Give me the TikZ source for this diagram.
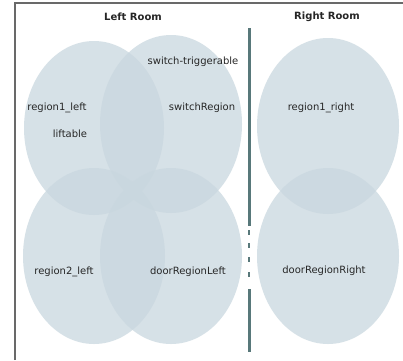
\documentclass[tikz,border=0pt]{standalone}
\usepackage{fontspec}
\setmainfont{DejaVu Sans}
\begin{document}
\begin{tikzpicture}[x=1pt,y=-1pt]
\definecolor{regfill}{RGB}{201,215,223}
\definecolor{wallc}{RGB}{88,120,122}
\definecolor{framec}{RGB}{105,105,105}
\tikzset{
  region/.style={fill=regfill,fill opacity=0.75},
  lbl/.style={font=\fontsize{10}{12}\selectfont,text=black!85,inner sep=0pt},
  title/.style={font=\fontsize{10}{12}\selectfont\bfseries,text=black!85,inner sep=0pt},
  wall/.style={draw=wallc,line width=3pt},
  wallgap/.style={draw=wallc,line width=1.5pt}
}
\useasboundingbox (0,0) rectangle (403,360);
\fill[white] (0,0) rectangle (403,360);
% frame
\draw[framec,line width=1.3pt] (15,360) -- (15,3) -- (403,3);
% regions
\fill[region] (94,128) ellipse [x radius=70, y radius=87];
\fill[region] (171,124) ellipse [x radius=71, y radius=89];
\fill[region] (94,256) ellipse [x radius=71, y radius=88];
\fill[region] (171,256) ellipse [x radius=71, y radius=88];
\fill[region] (328,126) ellipse [x radius=71, y radius=88];
\fill[region] (328,256) ellipse [x radius=71, y radius=88];
% wall
\coordinate (w1) at (249,28);
\coordinate (w2) at (249,226);
\coordinate (w3) at (249,289);
\coordinate (w4) at (249,352);
\draw[wall] (w1) -- (w2);
\draw[wallgap] (249,230) -- (249,235);
\draw[wallgap] (249,243) -- (249,248);
\draw[wallgap] (249,257) -- (249,262);
\draw[wallgap] (249,272) -- (249,277);
\draw[wall] (w3) -- (w4);
% titles
\node[title] (tl) at (133,17) {Left Room};
\node[title] (tr) at (327,17) {Right Room};
% labels
\node[lbl] (st) at (193,62) {switch-triggerable};
\node[lbl] (r1l) at (57,108) {region1\_left};
\node[lbl] (sr) at (202,108) {switchRegion};
\node[lbl] (r1r) at (321,108) {region1\_right};
\node[lbl] (lf) at (70,134) {liftable};
\node[lbl] (r2l) at (64,272) {region2\_left};
\node[lbl] (drl) at (188,272) {doorRegionLeft};
\node[lbl] (drr) at (324,271) {doorRegionRight};
\end{tikzpicture}
\end{document}
